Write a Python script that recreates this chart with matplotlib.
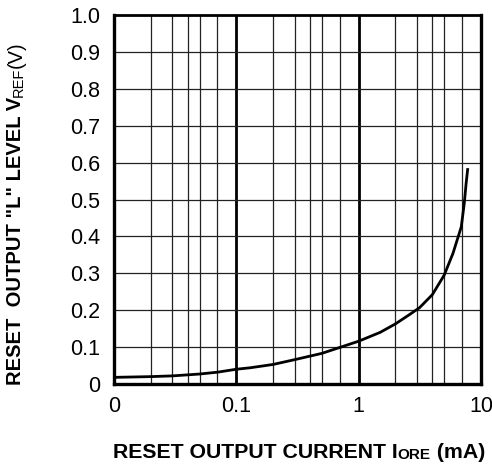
import matplotlib
matplotlib.use("Agg")
import matplotlib.pyplot as plt
import numpy as np

plt.rcParams['font.family'] = ['Liberation Sans', 'DejaVu Sans']

# data
current_ma = [0.01, 0.02, 0.03, 0.05, 0.07, 0.1, 0.13, 0.2, 0.3, 0.5, 0.7, 1.0,
              1.5, 2.0, 2.6, 3.15, 4.0, 5.0, 5.9, 6.9, 7.3, 7.56, 7.8]
vref_v = [0.018, 0.020, 0.022, 0.027, 0.032, 0.040, 0.044, 0.053, 0.066, 0.083,
          0.099, 0.116, 0.140, 0.163, 0.188, 0.207, 0.242, 0.295, 0.354, 0.426,
          0.490, 0.544, 0.585]
x_ticks = [0.01, 0.1, 1, 10]
x_tick_labels = ["0", "0.1", "1", "10"]
y_ticks = [0, 0.1, 0.2, 0.3, 0.4, 0.5, 0.6, 0.7, 0.8, 0.9, 1.0]
y_tick_labels = ["0", "0.1", "0.2", "0.3", "0.4", "0.5", "0.6", "0.7", "0.8", "0.9", "1.0"]
minor_multipliers = [2, 3, 4, 5, 7]

fig = plt.figure(figsize=(4.92, 4.66), dpi=100)
ax = fig.add_axes([114/492, 1-384/466, (481-114)/492, (384-15)/466])
ax.set_xscale('log')
ax.set_xlim(0.01, 10)
ax.set_ylim(0, 1.0)

# grid
for dec in [0.01, 0.1, 1]:
    for m in minor_multipliers:
        ax.axvline(dec*m, color='#222222', lw=0.9, zorder=1)
for dec in [0.1, 1]:
    ax.axvline(dec, color='black', lw=2.0, zorder=1)
for yv in y_ticks[1:-1]:
    ax.axhline(yv, color='#222222', lw=0.9, zorder=1)

ax.plot(current_ma, vref_v, color='black', lw=2.0, zorder=3, solid_capstyle='butt')

ax.set_xticks(x_ticks)
ax.set_xticklabels(x_tick_labels)
ax.set_xticks([], minor=True)
ax.set_yticks(y_ticks)
ax.set_yticklabels(y_tick_labels)
ax.tick_params(axis='both', length=0, labelsize=15.5)
ax.tick_params(axis='y', pad=10)
ax.tick_params(axis='x', pad=9)
for s in ['left', 'bottom', 'right']:
    ax.spines[s].set_linewidth(2.4)
ax.spines['top'].set_linewidth(2.0)

# x label pieces
t1 = fig.text(113/492, 1-458/466, "RESET OUTPUT CURRENT I", fontsize=15.3, fontweight='bold',
              ha='left', va='baseline')
t2 = ax.annotate("ORE", xy=(1, 0), xycoords=t1, fontsize=11, fontweight='bold',
                 ha='left', va='bottom')
t3 = ax.annotate(" (mA)", xy=(1, 0), xycoords=t2, fontsize=15.3, fontweight='bold',
                 ha='left', va='bottom')

# y label pieces (rotated)
u1 = fig.text(16/492, 1-385/466, 'RESET  OUTPUT "L" LEVEL V', fontsize=14.5, fontweight='bold',
              rotation=90, ha='center', va='bottom')
u2 = ax.annotate("REF", xy=(1, 1), xycoords=u1, fontsize=10.5,
                 rotation=90, ha='right', va='bottom')
u3 = ax.annotate("(V)", xy=(1, 1), xycoords=u2, fontsize=14.5,
                 rotation=90, ha='right', va='bottom')

fig.savefig("out.png", dpi=100)
